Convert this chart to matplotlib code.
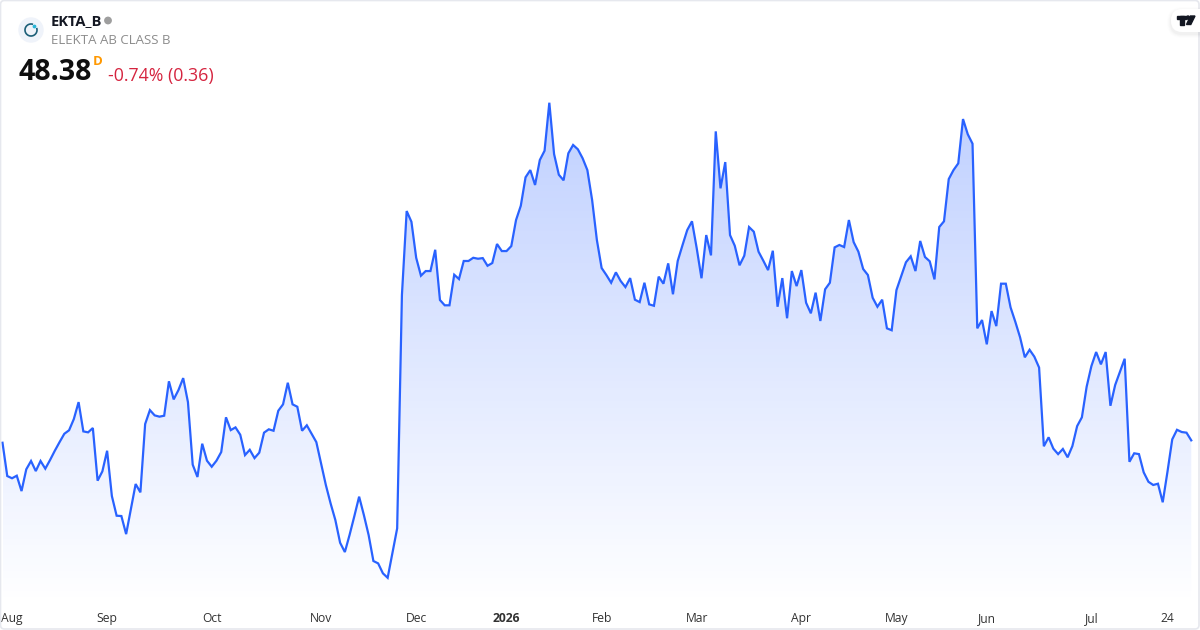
# EKTA_B one year price chart
import numpy as np
import matplotlib
matplotlib.use("Agg")
import matplotlib.pyplot as plt
from matplotlib.patches import Circle, FancyBboxPatch, Polygon, Arc, Rectangle
from matplotlib.colors import LinearSegmentedColormap

plt.rcParams['font.family'] = ['Open Sans', 'DejaVu Sans']

# -------------------------
# Data
# -------------------------

prices = [
    48.23, 46.15, 46.01, 46.17, 45.21, 46.57, 47.09, 46.46, 47.09, 46.61,
    47.15, 47.73, 48.27, 48.79, 49.01, 49.71, 50.77, 48.94, 48.88, 49.15,
    45.86, 46.44, 47.73, 44.90, 43.67, 43.65, 42.52, 44.09, 45.65, 45.13,
    49.40, 50.27, 49.94, 49.86, 49.92, 52.07, 50.94, 51.52, 52.27, 50.77,
    46.86, 46.09, 48.17, 47.11, 46.73, 47.11, 47.65, 49.82, 49.02, 49.19,
    48.73, 47.46, 47.79, 47.27, 47.61, 48.86, 49.07, 48.98, 50.23, 50.63,
    51.98, 50.63, 50.48, 48.98, 49.32, 48.79, 48.27, 46.94, 45.59, 44.44,
    43.40, 41.98, 41.40, 42.48, 43.65, 44.86, 43.71, 42.46, 40.84, 40.69,
    40.07, 39.79, 41.32, 42.88, 57.46, 62.71, 62.04, 59.79, 58.67, 58.96,
    58.96, 60.29, 57.15, 56.82, 56.82, 58.73, 58.46, 59.59, 59.59, 59.79,
    59.73, 59.77, 59.29, 59.46, 60.65, 60.21, 60.21, 60.52, 62.15, 63.04,
    64.82, 65.27, 64.34, 65.90, 66.48, 69.48, 66.27, 64.98, 64.63, 66.32,
    66.84, 66.57, 66.01, 65.27, 63.40, 60.90, 59.15, 58.71, 58.23, 58.88,
    58.34, 57.96, 58.52, 57.17, 57.02, 58.23, 56.88, 56.79, 58.61, 58.17,
    59.44, 57.51, 59.59, 60.57, 61.52, 62.07, 60.38, 58.51, 61.21, 59.94,
    67.69, 64.13, 65.77, 61.21, 60.54, 59.32, 59.92, 61.71, 61.42, 60.17,
    59.61, 59.02, 60.23, 56.73, 58.52, 56.01, 58.96, 58.02, 59.02, 56.98,
    56.32, 57.61, 55.84, 57.82, 58.23, 60.44, 60.59, 60.46, 62.15, 60.77,
    60.17, 59.09, 58.71, 57.29, 56.73, 57.17, 55.38, 55.26, 57.77, 58.63,
    59.51, 59.88, 58.96, 60.84, 59.84, 59.57, 58.44, 61.71, 62.07, 64.71,
    65.27, 65.69, 68.46, 67.51, 66.92, 55.38, 55.90, 54.38, 56.46, 55.52,
    58.17, 58.17, 56.69, 55.79, 54.82, 53.57, 54.04, 53.61, 52.93, 48.01,
    48.57, 47.86, 47.52, 47.84, 47.32, 48.02, 49.27, 49.82, 51.73, 53.02,
    53.90, 53.13, 53.90, 50.54, 51.84, 52.67, 53.48, 47.04, 47.57, 47.52,
    46.38, 45.79, 45.59, 45.67, 44.51, 46.42, 48.44, 49.04, 48.90, 48.86,
    48.38,
]

tick_pos = [-0.3, 22, 44, 67, 87, 106, 126, 146, 168, 188, 207, 229, 245]
tick_labels = ["Aug", "Sep", "Oct", "Nov", "Dec", "2026", "Feb", "Mar",
               "Apr", "May", "Jun", "Jul", "24"]

ticker = "EKTA_B"
name = "ELEKTA AB CLASS B"
last_price = "48.38"
change = "-0.74% (0.36)"

# -------------------------
# Figure and price axes
# -------------------------

fig = plt.figure(figsize=(12, 6.3), dpi=100)
ax = fig.add_axes([0, 25 / 630, 1, 605 / 630])

x = np.arange(len(prices))
line_color = "#2962ff"

# gradient under the line, clipped to the area
cmap = LinearSegmentedColormap.from_list(
    "area", [(0.161, 0.384, 1.0, 0.30), (0.161, 0.384, 1.0, 0.0)])
grad = np.linspace(0, 1, 256).reshape(-1, 1)
img = ax.imshow(grad, cmap=cmap, aspect="auto", zorder=1,
                extent=[x[0], x[-1], 38.09, max(prices)], origin="upper",
                interpolation="bilinear")
ax.set_xlim(-0.526, 251.84)
ax.set_ylim(38.09, 75.90)
area = ax.fill_between(x, prices, 38.09, color="none")
img.set_clip_path(area.get_paths()[0], transform=ax.transData)

ax.plot(x, prices, color=line_color, linewidth=1.6, zorder=2,
        solid_joinstyle="miter")

ax.set_yticks([])
ax.set_xticks(tick_pos)
ax.set_xticklabels(tick_labels, fontsize=8.7, color="#333333")
ax.tick_params(axis="x", length=0, pad=12)
for spine in ax.spines.values():
    spine.set_visible(False)

for label in ax.get_xticklabels():
    label.set_va("baseline")
ax.get_xticklabels()[0].set_ha("left")
ax.get_xticklabels()[5].set_fontweight("bold")

# -------------------------
# Overlay in pixel coordinates: header, logo, frame
# -------------------------

over = fig.add_axes([0, 0, 1, 1], facecolor="none")
over.set_xlim(0, 1200)
over.set_ylim(630, 0)
over.axis("off")

over.add_patch(FancyBboxPatch((0.5, 0.5), 1198.5, 628.5,
                              boxstyle="round,pad=0,rounding_size=4",
                              fill=False, edgecolor="#e6e8ee", linewidth=1.2))

over.add_patch(Circle((31, 30), 12, color="#eff3fa", zorder=3))
over.add_patch(Arc((31, 30), 12, 12, theta1=-20, theta2=290, color="#1d5f78",
                   linewidth=1.2, zorder=4))
over.add_patch(Circle((34.5, 26.5), 1.2, color="#29b6d8", zorder=5))

over.text(51, 21, ticker, fontsize=10.5, fontweight="bold", color="#131722",
          va="center", ha="left")
over.add_patch(Circle((108, 20.5), 3.2, color="#9e9e9e"))
over.text(51, 41, name, fontsize=9.55, color="#8c8c8c", va="center", ha="left")
over.text(18.5, 73, last_price, fontsize=20.5, fontweight="bold", color="#0f0f0f",
          va="center", ha="left")
over.text(93, 61.5, "D", fontsize=9.5, fontweight="bold", color="#ff9800",
          va="center", ha="left")
over.text(108, 76, change, fontsize=12.8, color="#d5243f", va="center", ha="left")

# TradingView badge, soft shadow built from a few wider pills
for grow, alpha in [(4, 0.008), (3, 0.012), (2, 0.016), (1, 0.02)]:
    over.add_patch(FancyBboxPatch((1171 - grow, 9 - grow + 2), 44 + 2 * grow, 23 + 2 * grow,
                                  boxstyle="round,pad=0,rounding_size=%d" % (11 + grow),
                                  facecolor="#000000", alpha=alpha, edgecolor="none",
                                  zorder=5))
over.add_patch(FancyBboxPatch((1171, 9), 44, 23, boxstyle="round,pad=0,rounding_size=11",
                              facecolor="white", edgecolor="none", zorder=6))
over.add_patch(Rectangle((1177, 16), 8.5, 3.2, color="#131722", zorder=7))
over.add_patch(Rectangle((1180.3, 16), 3.4, 8.5, color="#131722", zorder=7))
over.add_patch(Circle((1188, 17.6), 1.6, color="#131722", zorder=7))
over.add_patch(Polygon([(1190.5, 16), (1195, 16), (1190.8, 24.5), (1186.5, 24.5)],
                       closed=True, color="#131722", zorder=7))

plt.savefig("out.png", dpi=100)
